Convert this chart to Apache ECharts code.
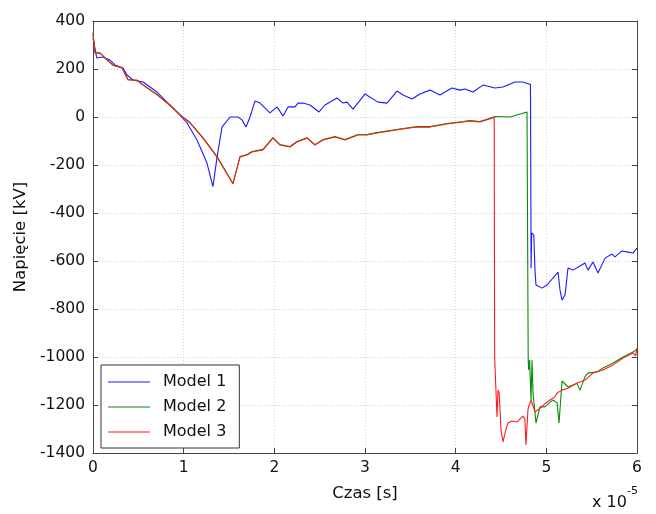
<!DOCTYPE html>
<html>
<head>
<meta charset="utf-8">
<script src="https://cdn.jsdelivr.net/npm/echarts@6/dist/echarts.min.js"></script>
<style>
  html, body { margin: 0; padding: 0; background: #fff; }
  #wykres { width: 656px; height: 514px; }
</style>
</head>
<body>
<div id="wykres"></div>
<script>
// czas w jednostkach 1e-5 s, napiecie w kV

const tickiX = [0, 1, 2, 3, 4, 5, 6];
const tickiY = [-1400, -1200, -1000, -800, -600, -400, -200, 0, 200, 400];

const model1Czas = [0, 0.011, 0.041, 0.110, 0.187, 0.243, 0.331, 0.375, 0.441, 0.551, 0.706, 0.816, 0.937, 1.037, 1.147, 1.257, 1.323, 1.368, 1.423, 1.511, 1.599, 1.643, 1.687, 1.732, 1.787, 1.842, 1.952, 2.029, 2.096, 2.151, 2.228, 2.261, 2.316, 2.393, 2.415, 2.493, 2.559, 2.691, 2.757, 2.801, 2.868, 3.000, 3.143, 3.243, 3.353, 3.419, 3.518, 3.606, 3.717, 3.827, 3.959, 4.048, 4.103, 4.191, 4.301, 4.434, 4.522, 4.654, 4.742, 4.825, 4.832, 4.838, 4.862, 4.875, 4.886, 4.908, 4.952, 5.007, 5.129, 5.151, 5.173, 5.206, 5.239, 5.294, 5.371, 5.426, 5.459, 5.514, 5.570, 5.647, 5.724, 5.757, 5.835, 5.901, 5.956, 6.0];
const model1Napiecie = [330, 308, 246, 250, 237, 217, 204, 175, 154, 146, 104, 62, 17, -25, -96, -192, -290, -167, -42, 0, 0, -12, -42, 0, 67, 58, 17, 42, 4, 42, 42, 58, 58, 50, 58, 21, 50, 79, 58, 62, 33, 96, 62, 58, 108, 92, 75, 96, 112, 92, 121, 112, 117, 104, 133, 121, 125, 146, 146, 135, -630, -483, -492, -640, -700, -708, -713, -700, -646, -721, -763, -742, -629, -638, -621, -608, -638, -604, -650, -588, -571, -583, -558, -563, -567, -546];

const model2Czas = [0, 0.022, 0.077, 0.154, 0.221, 0.320, 0.386, 0.485, 0.551, 0.706, 0.849, 0.960, 1.070, 1.213, 1.368, 1.544, 1.621, 1.698, 1.754, 1.875, 1.985, 2.062, 2.173, 2.250, 2.360, 2.448, 2.537, 2.669, 2.779, 2.923, 3.022, 3.132, 3.276, 3.419, 3.573, 3.717, 3.904, 4.081, 4.158, 4.268, 4.434, 4.456, 4.599, 4.676, 4.787, 4.795, 4.800, 4.805, 4.815, 4.825, 4.831, 4.842, 4.853, 4.886, 4.930, 4.985, 5.073, 5.118, 5.140, 5.173, 5.239, 5.338, 5.371, 5.426, 5.459, 5.559, 5.625, 5.735, 5.846, 5.956, 6.0];
const model2Napiecie = [352, 270, 265, 240, 215, 206, 156, 152, 135, 94, 48, 10, -23, -86, -165, -277, -165, -156, -144, -135, -86, -115, -123, -102, -86, -115, -94, -81, -94, -73, -73, -65, -56, -48, -40, -40, -27, -19, -15, -19, 2, 4, 0, 8, 21, 21, -1013, -1054, -1013, -1110, -1179, -1013, -1150, -1275, -1208, -1208, -1179, -1190, -1275, -1100, -1125, -1110, -1138, -1083, -1067, -1062, -1046, -1025, -1000, -979, -967];

const model3Czas = [0, 0.022, 0.077, 0.154, 0.221, 0.320, 0.386, 0.485, 0.551, 0.706, 0.849, 0.960, 1.070, 1.213, 1.368, 1.544, 1.621, 1.698, 1.754, 1.875, 1.985, 2.062, 2.173, 2.250, 2.360, 2.448, 2.537, 2.669, 2.779, 2.923, 3.022, 3.132, 3.276, 3.419, 3.573, 3.717, 3.904, 4.081, 4.158, 4.268, 4.425, 4.430, 4.440, 4.456, 4.467, 4.480, 4.500, 4.522, 4.555, 4.577, 4.621, 4.676, 4.742, 4.764, 4.775, 4.798, 4.831, 4.875, 4.930, 4.985, 5.040, 5.096, 5.118, 5.173, 5.239, 5.338, 5.426, 5.514, 5.625, 5.735, 5.846, 5.956, 5.985, 6.0];
const model3Napiecie = [345, 267, 267, 237, 217, 204, 154, 154, 133, 92, 50, 8, -25, -88, -167, -279, -167, -158, -146, -137, -88, -117, -125, -104, -88, -117, -96, -83, -96, -75, -75, -67, -58, -50, -42, -42, -29, -21, -17, -21, -2, -1000, -1100, -1250, -1138, -1150, -1304, -1354, -1300, -1275, -1267, -1271, -1246, -1260, -1367, -1217, -1179, -1229, -1213, -1195, -1179, -1165, -1150, -1138, -1130, -1108, -1096, -1067, -1054, -1033, -1004, -983, -995, -963];

const nazwy = ['Model 1', 'Model 2', 'Model 3'];
const kolory = ['#1a1aff', '#0a8a0a', '#ff1a1a'];

const FONT = 'DejaVu Sans';

function pary(czas, wartosci) {
  return czas.map((t, i) => [t, wartosci[i]]);
}

const dane = [
  pary(model1Czas, model1Napiecie),
  pary(model2Czas, model2Napiecie),
  pary(model3Czas, model3Napiecie)
];

const chart = echarts.init(document.getElementById('wykres'));

// os bez opisow (gora / prawa strona ramki)
const osLustro = {
  axisLine: { show: true, onZero: false, lineStyle: { color: '#444', width: 1 } },
  axisTick: { show: true, inside: true, length: 5, lineStyle: { color: '#444' } },
  axisLabel: { show: false },
  splitLine: { show: false }
};

chart.setOption({
  animation: false,
  backgroundColor: '#fff',
  textStyle: { fontFamily: FONT },
  grid: { left: 93, right: 19, top: 21, bottom: 61 },
  xAxis: [{
    type: 'value',
    min: tickiX[0], max: tickiX[tickiX.length - 1], interval: 1,
    name: 'Czas [s]', nameLocation: 'middle', nameGap: 32,
    nameTextStyle: { color: '#111', fontSize: 16.5, fontFamily: FONT },
    axisLine: { show: true, onZero: false, lineStyle: { color: '#444' } },
    axisTick: { show: true, inside: true, length: 5, lineStyle: { color: '#444' } },
    axisLabel: { color: '#111', fontSize: 15.5, margin: 7, fontFamily: FONT },
    splitLine: { show: true, lineStyle: { color: '#cfcfcf', type: [1, 2] } }
  }, Object.assign({
    type: 'value', position: 'top',
    min: tickiX[0], max: tickiX[tickiX.length - 1], interval: 1
  }, osLustro)],
  yAxis: [{
    type: 'value',
    min: tickiY[0], max: tickiY[tickiY.length - 1], interval: 200,
    name: 'Napięcie [kV]', nameLocation: 'middle', nameGap: 63,
    nameTextStyle: { color: '#111', fontSize: 16.5, fontFamily: FONT },
    axisLine: { show: true, onZero: false, lineStyle: { color: '#444' } },
    axisTick: { show: true, inside: true, length: 5, lineStyle: { color: '#444' } },
    axisLabel: { color: '#111', fontSize: 15.5, margin: 8, fontFamily: FONT, formatter: v => String(v) },
    splitLine: { show: true, lineStyle: { color: '#cfcfcf', type: [1, 2] } }
  }, Object.assign({
    type: 'value', position: 'right',
    min: tickiY[0], max: tickiY[tickiY.length - 1], interval: 200
  }, osLustro)],
  legend: {
    left: 101, top: 365,
    orient: 'vertical',
    data: nazwy.map(n => ({ name: n, icon: 'rect' })),
    itemWidth: 42, itemHeight: 1, itemGap: 9,
    padding: [9, 13, 8, 7],
    borderColor: '#333', borderWidth: 1, borderRadius: 0,
    backgroundColor: '#fff',
    textStyle: { color: '#111', fontSize: 16, fontFamily: FONT, padding: [0, 0, 0, 8] }
  },
  graphic: [{
    type: 'text',
    left: 592, top: 486,
    style: {
      text: '{a|x 10}{b|-5}',
      rich: {
        a: { fontSize: 16, fontFamily: FONT, fill: '#111', verticalAlign: 'bottom', padding: [9, 0, 0, 0] },
        b: { fontSize: 11, fontFamily: FONT, fill: '#111', verticalAlign: 'top' }
      }
    }
  }],
  series: dane.map((d, i) => ({
    name: nazwy[i],
    type: 'line',
    data: d,
    showSymbol: false,
    symbol: 'none',
    color: kolory[i],
    lineStyle: { width: 1.1, color: kolory[i] },
    z: 2 + i
  }))
});
</script>
</body>
</html>
